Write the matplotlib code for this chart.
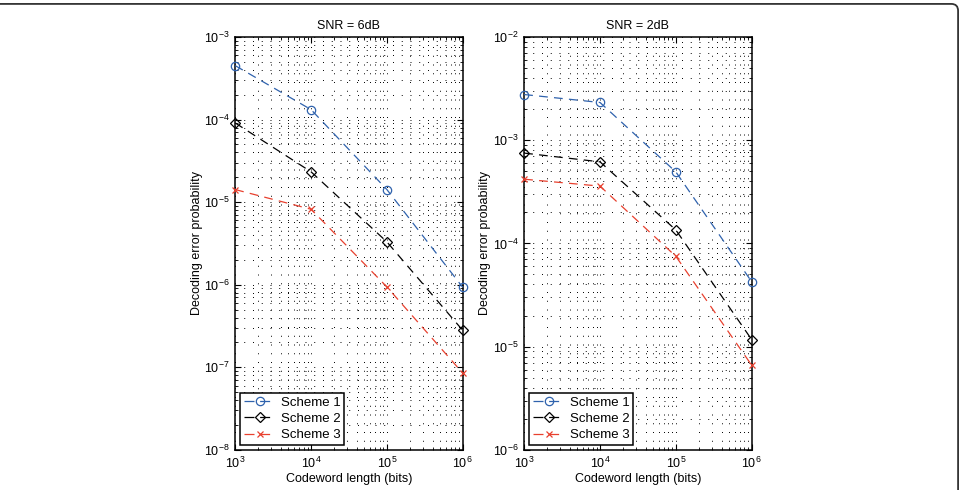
import numpy as np
import matplotlib
matplotlib.use("Agg")
import matplotlib.pyplot as plt
from matplotlib.lines import Line2D
from matplotlib.patches import PathPatch
from matplotlib.path import Path

plt.rcParams['font.family'] = ['Liberation Sans', 'DejaVu Sans']
plt.rcParams['mathtext.fontset'] = 'custom'
plt.rcParams['mathtext.rm'] = 'Liberation Sans'
plt.rcParams['mathtext.it'] = 'Liberation Sans'
plt.rcParams['font.size'] = 8

codeword = [1e3, 1e4, 1e5, 1e6]
labels = ['Scheme 1', 'Scheme 2', 'Scheme 3']

# SNR = 6dB
snr6_s1 = [4.5e-4, 1.32e-4, 1.42e-5, 9.3e-7]
snr6_s2 = [9.1e-5, 2.33e-5, 3.3e-6, 2.8e-7]
snr6_s3 = [1.42e-5, 8.2e-6, 9.4e-7, 8.5e-8]

# SNR = 2dB
snr2_s1 = [2.77e-3, 2.32e-3, 4.93e-4, 4.25e-5]
snr2_s2 = [7.5e-4, 6.17e-4, 1.35e-4, 1.17e-5]
snr2_s3 = [4.19e-4, 3.59e-4, 7.5e-5, 6.6e-6]

colors = ['#2f62ad', 'black', '#e8402e']
markers = ['o', 'D', 'x']
msizes = [6, 5, 5]

fig = plt.figure(figsize=(9.6, 4.9), dpi=100)

# outer frame: top edge and right edge with a rounded corner
verts = [(-0.01, 0.992), (0.991, 0.992), (0.998, 0.992), (0.998, 0.978), (0.998, -0.01)]
codes = [Path.MOVETO, Path.LINETO, Path.CURVE3, Path.CURVE3, Path.LINETO]
fig.add_artist(PathPatch(Path(verts, codes), transform=fig.transFigure,
                         fill=False, edgecolor='#333333', linewidth=1.3))

panels = [
    ([0.245, 0.082, 0.237, 0.8425], 'SNR = 6dB', (1e-8, 1e-3), [snr6_s1, snr6_s2, snr6_s3]),
    ([0.546, 0.082, 0.237, 0.8425], 'SNR = 2dB', (1e-6, 1e-2), [snr2_s1, snr2_s2, snr2_s3]),
]

for rect, title, ylim, series in panels:
    ax = fig.add_axes(rect)
    for vals, c, m, ms, lab in zip(series, colors, markers, msizes, labels):
        mfc = 'none' if m != 'x' else c
        ax.plot(codeword, vals, linestyle=(0, (7, 5)), color=c, linewidth=0.9,
                marker=m, markersize=ms, markerfacecolor=mfc, markeredgecolor=c,
                markeredgewidth=0.9, label=lab, clip_on=False, zorder=3)
    ax.set_xscale('log')
    ax.set_yscale('log')
    ax.set_xlim(1e3, 1e6)
    ax.set_ylim(*ylim)
    ax.set_title(title, fontsize=9, pad=6)
    ax.set_xlabel('Codeword length (bits)', fontsize=9, labelpad=2)
    ax.set_ylabel('Decoding error probability', fontsize=9, labelpad=1)
    ax.grid(True, which='both', linestyle=(0, (1, 8)), color='black', linewidth=0.7)
    ax.tick_params(which='both', direction='in', top=True, right=True, labelsize=9)
    ax.tick_params(which='major', length=4, pad=4)
    ax.tick_params(which='minor', length=2)
    for s in ax.spines.values():
        s.set_linewidth(1.1)
    handles = [Line2D([], [], linestyle=(0, (8, 4.5)), color=c, linewidth=0.9, marker=m,
                      markersize=ms, markerfacecolor='none' if m != 'x' else c,
                      markeredgecolor=c, markeredgewidth=0.9)
               for c, m, ms in zip(colors, markers, msizes)]
    leg = ax.legend(handles, labels, loc='lower left', fontsize=9.5, fancybox=False,
                    framealpha=1, edgecolor='black', borderaxespad=0.35,
                    handlelength=2.4, handletextpad=0.4, labelspacing=0.3, borderpad=0.3)
    leg.get_frame().set_linewidth(1.1)

fig.savefig('out.png', dpi=100)
